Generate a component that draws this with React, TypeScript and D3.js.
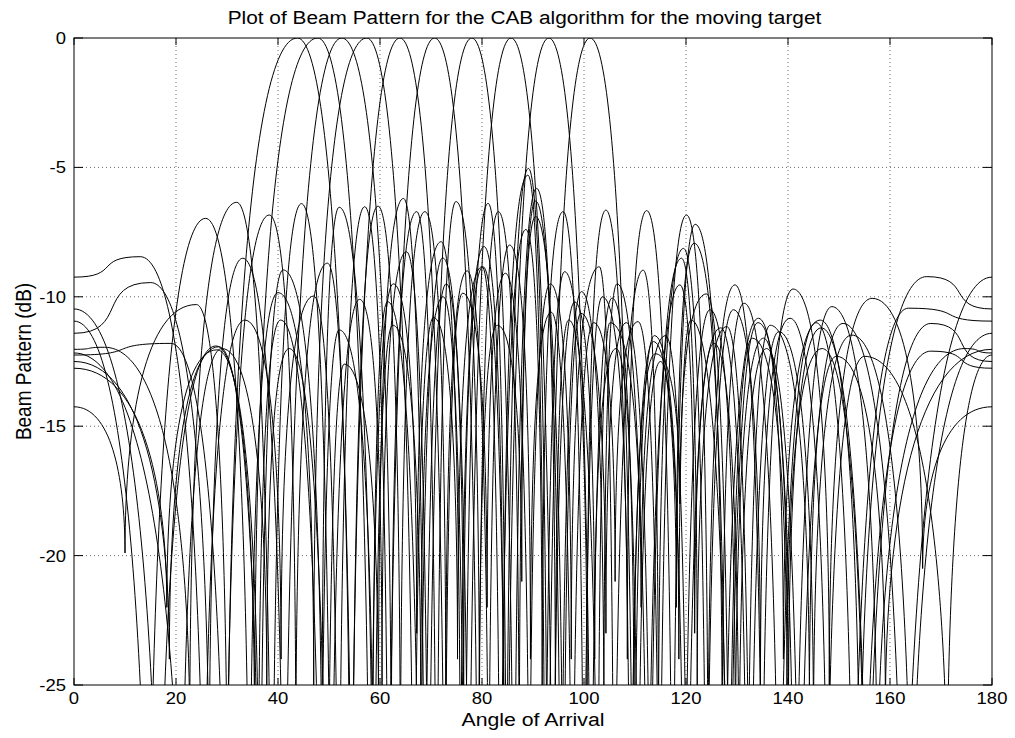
import React from 'react';
import * as d3 from 'd3';

// ---------- chart text ----------
const TITLE = 'Plot of Beam Pattern for the CAB algorithm for the moving target';
const X_LABEL = 'Angle of Arrival';
const Y_LABEL = 'Beam Pattern (dB)';

// ---------- axes ----------
const ANGLE_TICKS = [0, 20, 40, 60, 80, 100, 120, 140, 160, 180];
const DB_TICKS = [0, -5, -10, -15, -20, -25];

// ---------- beam patterns: [angle (deg), level (dB)] at edges, lobe peaks and nulls ----------
const beam44 = [[0,-14.25],[10,-19.9],[24,-10.3],[30.1,-32],[43.8,0],[54.5,-38],[59.6,-6.5],[64.0,-30],[68.8,-6.71],[72.9,-26],[77.1,-9.0],[81.3,-35],[85.4,-8.0],[89.5,-24],[93.6,-10.6],[97.7,-40],[101.9,-11.0],[106.1,-21],[110.6,-10.96],[114.8,-40],[120.1,-6.84],[124.3,-30],[129.6,-9.54],[134.9,-36],[141.0,-9.7],[148.1,-25],[156.5,-10.06],[166.4,-20.5],[180,-14.25]];
const beam48 = [[0,-10.47],[16.7,-38],[27.8,-11.9],[35.4,-27],[47.8,0],[58.1,-40],[62.6,-9.5],[67.2,-23],[72.0,-7.87],[75.8,-33],[80.4,-8.06],[84.2,-28],[89.0,-5.3],[92.4,-40],[96.2,-9.03],[100.6,-26],[104.3,-6.65],[109.1,-40],[113.6,-11.73],[118.1,-22],[121.6,-7.93],[127.8,-34],[134.2,-10.83],[139.1,-24],[146.3,-10.9],[154.1,-32],[167.2,-9.22],[180,-10.47]];
const beam52 = [[0,-11.41],[15.0,-9.45],[26.5,-30],[33.1,-8.51],[41.3,-40],[52.5,0],[62.2,-29],[67.2,-6.71],[71.1,-40],[74.9,-6.32],[79.5,-27],[83.0,-11.1],[87.8,-21],[90.5,-6.9],[96.0,-38],[99.4,-10.64],[104.3,-23],[108.3,-11.0],[113.0,-38],[119.1,-8.51],[122.2,-25],[128.0,-11.15],[132.6,-40],[138.2,-11.35],[145.0,-27],[152.5,-11.48],[164.2,-35],[180,-11.41]];
const beam57 = [[0,-10.94],[14.6,-40],[25.8,-6.97],[34.4,-36],[40.0,-9.84],[47.0,-25],[57.4,0],[66.7,-40],[70.5,-10.8],[75.2,-24],[80.0,-8.84],[83.6,-40],[88.6,-7.4],[91.8,-26],[95.9,-6.71],[100.0,-40],[103.6,-10.0],[108.5,-24],[112.3,-6.67],[117.4,-40],[121.8,-7.2],[127.1,-28],[131.4,-10.25],[138.3,-40],[145.5,-11.0],[152.8,-38],[163.6,-10.44],[180,-10.94]];
const beam64 = [[0,-12.25],[19.0,-11.8],[29.7,-38],[38.3,-6.84],[43.5,-28],[49.7,-8.7],[54.3,-40],[63.9,0],[72.7,-38],[76.2,-9.86],[81.0,-22],[84.6,-9.09],[89.3,-36],[93.4,-9.5],[97.5,-24],[103.0,-8.84],[105.9,-40],[111.6,-8.97],[114.6,-28],[119.5,-8.13],[124.0,-40],[129.3,-10.5],[134.6,-25],[140.4,-10.83],[147.7,-35],[155.0,-12.3],[171.2,-30],[180,-12.25]];
const beam71 = [[0,-9.24],[13.0,-8.45],[25.5,-36],[33.5,-10.9],[40.6,-24],[47.0,-9.97],[51.9,-40],[57.0,-6.52],[61.7,-40],[70.7,0],[79.2,-37],[83.2,-6.71],[87.3,-30],[90.5,-6.3],[95.5,-40],[99.5,-9.8],[103.9,-27],[106.5,-9.5],[112.5,-40],[118.8,-9.54],[121.7,-23],[126.8,-11.2],[132.0,-38],[136.5,-11.1],[144.2,-26],[150.8,-11.03],[162.7,-40],[180,-9.24]];
const beam78 = [[0,-12.03],[6.0,-11.95],[22.7,-27],[31.9,-6.35],[38.8,-40],[44.6,-6.4],[50.4,-40],[56.0,-10.1],[60.4,-25],[65.2,-8.26],[69.5,-40],[78.0,0],[86.3,-40],[90.7,-5.81],[94.4,-27],[97.0,-10.9],[102.7,-38],[105.1,-11.0],[111.2,-22],[116.0,-11.5],[120.3,-40],[125.5,-11.8],[130.4,-30],[135.8,-12.0],[142.3,-40],[149.5,-12.3],[159.1,-26],[180,-12.03]];
const beam86 = [[0,-12.17],[21.1,-36],[29.0,-12.0],[37.8,-25],[42.2,-12.0],[49.7,-40],[53.0,-12.6],[59.7,-26],[64.6,-6.2],[68.8,-40],[73.0,-9.5],[77.4,-40],[85.7,0],[93.9,-40],[98.2,-10.2],[102.1,-24],[106.3,-12.0],[110.6,-36],[115.0,-12.5],[119.7,-40],[124.7,-10.5],[129.7,-28],[135.2,-11.6],[141.4,-40],[148.6,-10.38],[157.5,-30],[174.6,-12.0],[180,-12.17]];
const beam93 = [[0,-12.5],[18.7,-24],[28.4,-11.93],[36.5,-38],[41.0,-8.96],[48.6,-30],[52.0,-6.54],[58.8,-40],[62.5,-11.1],[68.0,-26],[72.4,-10.0],[76.6,-40],[81.2,-6.39],[84.9,-40],[93.1,0],[101.4,-40],[105.5,-10.05],[109.8,-27],[114.0,-12.2],[118.8,-18],[124.0,-9.89],[128.6,-40],[134.1,-11.0],[140.1,-26],[146.5,-11.2],[155.5,-38],[168.0,-11.03],[180,-12.5]];
const beam101 = [[0,-12.76],[18.2,-22],[28.0,-12.05],[36.2,-30],[40.5,-10.9],[48.4,-40],[52.0,-11.28],[58.6,-30],[61.5,-10.19],[67.8,-40],[72.3,-8.5],[76.4,-26],[80.2,-8.84],[84.7,-40],[89.1,-5.04],[92.9,-40],[101.2,0],[109.7,-40],[113.8,-11.5],[118.6,-24],[121.0,-10.9],[128.4,-40],[133.0,-11.6],[139.8,-25],[146.7,-12.0],[155.1,-35],[168.0,-12.1],[180,-12.76]];

const CURVES = [beam44, beam48, beam52, beam57, beam64, beam71, beam78, beam86, beam93, beam101];

// ---------- layout ----------
const W = 1015;
const H = 738;
const PLOT = { left: 74, right: 992, top: 38, bottom: 685 };
const SX = 1.12; // horizontal stretch of the original picture's text
const FONT = "Arial, 'Liberation Sans', Helvetica, sans-serif";

// custom d3 curve: lobes are drawn with horizontal tangents at peaks and vertical tangents at nulls
function lobeCurve(context: any) {
  let pts: [number, number][] = [];
  const CP = 0.7; // handle length at peaks
  const CN = 0.55; // handle length at nulls
  return {
    areaStart() {},
    areaEnd() {},
    lineStart() { pts = []; },
    point(x: number, y: number) { pts.push([+x, +y]); },
    lineEnd() {
      const n = pts.length;
      if (!n) return;
      const kind = (i: number) => {
        if (i === 0 || i === n - 1) return 'h';
        const yy = pts[i][1], a = pts[i - 1][1], b = pts[i + 1][1];
        if (yy <= a && yy <= b) return 'h';
        if (yy >= a && yy >= b) return 'v';
        return 's';
      };
      context.moveTo(pts[0][0], pts[0][1]);
      for (let i = 0; i < n - 1; i++) {
        const [x0, y0] = pts[i];
        const [x1, y1] = pts[i + 1];
        const dx = x1 - x0, dy = y1 - y0;
        const k0 = kind(i), k1 = kind(i + 1);
        const c1 = k0 === 'h' ? [x0 + CP * dx, y0] : k0 === 'v' ? [x0, y0 + CN * dy] : [x0 + dx / 3, y0 + dy / 3];
        const c2 = k1 === 'h' ? [x1 - CP * dx, y1] : k1 === 'v' ? [x1, y1 - CN * dy] : [x1 - dx / 3, y1 - dy / 3];
        context.bezierCurveTo(c1[0], c1[1], c2[0], c2[1], x1, y1);
      }
    },
  };
}

export default function App() {
  const x = d3.scaleLinear().domain([0, 180]).range([PLOT.left, PLOT.right]);
  const y = d3.scaleLinear().domain([-25, 0]).range([PLOT.bottom, PLOT.top]);
  const line = d3.line<number[]>().x((d) => x(d[0])).y((d) => y(d[1])).curve(lobeCurve as any);
  const pw = PLOT.right - PLOT.left;
  const ph = PLOT.bottom - PLOT.top;

  return (
    <svg width={W} height={H} style={{ position: 'absolute', left: 0, top: 0, display: 'block', background: '#fff' }}>
      <defs>
        <clipPath id="plotclip">
          <rect x={PLOT.left} y={PLOT.top} width={pw} height={ph} />
        </clipPath>
      </defs>
      <rect x={0} y={0} width={W} height={H} fill="#fff" />
      {/* grid */}
      <g stroke="#444" strokeWidth={0.8} strokeDasharray="1 3">
        {ANGLE_TICKS.slice(1, -1).map((t) => (
          <line key={'gx' + t} x1={x(t)} x2={x(t)} y1={PLOT.top} y2={PLOT.bottom} />
        ))}
        {DB_TICKS.slice(1, -1).map((t) => (
          <line key={'gy' + t} x1={PLOT.left} x2={PLOT.right} y1={y(t)} y2={y(t)} />
        ))}
      </g>
      {/* beam patterns */}
      <g clipPath="url(#plotclip)" fill="none" stroke="#000" strokeWidth={1}>
        {CURVES.map((c, i) => (
          <path key={i} d={line(c as any) || ''} />
        ))}
      </g>
      {/* box and ticks */}
      <rect x={PLOT.left} y={PLOT.top} width={pw} height={ph} fill="none" stroke="#000" strokeWidth={1} />
      <g stroke="#000" strokeWidth={1}>
        {ANGLE_TICKS.map((t) => (
          <g key={'tx' + t}>
            <line x1={x(t)} x2={x(t)} y1={PLOT.bottom} y2={PLOT.bottom - 7} />
            <line x1={x(t)} x2={x(t)} y1={PLOT.top} y2={PLOT.top + 7} />
          </g>
        ))}
        {DB_TICKS.map((t) => (
          <g key={'ty' + t}>
            <line x1={PLOT.left} x2={PLOT.left + 9} y1={y(t)} y2={y(t)} />
            <line x1={PLOT.right} x2={PLOT.right - 9} y1={y(t)} y2={y(t)} />
          </g>
        ))}
      </g>
      {/* tick labels */}
      <g fontFamily={FONT} fontSize={16.5} fill="#000">
        {ANGLE_TICKS.map((t) => (
          <text key={'lx' + t} transform={`translate(${x(t)},${PLOT.bottom + 19}) scale(${SX},1)`} textAnchor="middle">{t}</text>
        ))}
        {DB_TICKS.map((t) => (
          <text key={'ly' + t} transform={`translate(${PLOT.left - 8},${y(t) + 6}) scale(${SX},1)`} textAnchor="end">{t}</text>
        ))}
      </g>
      {/* title and axis labels */}
      <text transform={`translate(524.5,24) scale(${SX},1)`} textAnchor="middle" fontFamily={FONT} fontSize={18.6}>{TITLE}</text>
      <text transform={`translate(${(PLOT.left + PLOT.right) / 2},726) scale(${SX},1)`} textAnchor="middle" fontFamily={FONT} fontSize={19}>{X_LABEL}</text>
      <text transform={`translate(31,${(PLOT.top + PLOT.bottom) / 2}) rotate(-90) scale(1,${SX})`} textAnchor="middle" fontFamily={FONT} fontSize={19}>{Y_LABEL}</text>
    </svg>
  );
}
